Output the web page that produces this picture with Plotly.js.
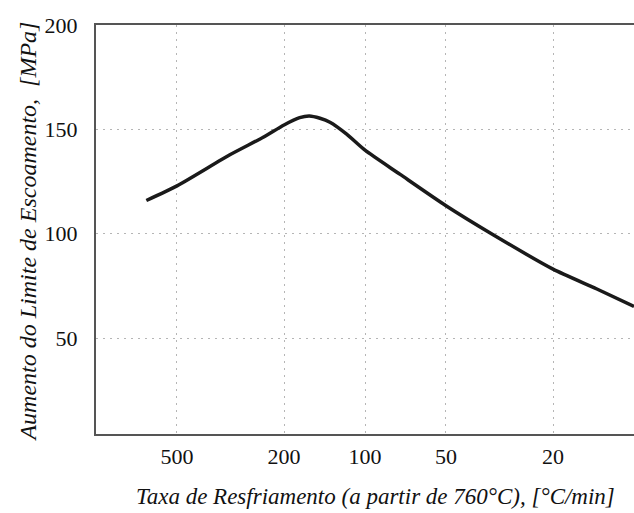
<!DOCTYPE html>
<html>
<head>
<meta charset="utf-8">
<script src="https://cdn.plot.ly/plotly-3.0.1.min.js"></script>
<style>html,body{margin:0;padding:0;background:#fff;} #chart{width:634px;height:513px;}</style>
</head>
<body>
<div id="chart"></div>
<script>
// Cooling rate (°C/min) and yield strength increase (MPa)
const coolingRate = [650, 500, 318, 239, 200, 175, 161, 147, 135, 117, 100, 74, 50, 33.4, 20, 13.8, 10];
const yieldIncrease = [115.9, 122.9, 137.8, 146.2, 152.1, 155.6, 156.4, 155.3, 153.4, 147.7, 140.0, 128.4, 113.4, 99.5, 83.0, 73.6, 65.1];
const xTickVals = [500, 200, 100, 50, 20];
const xTickText = ['500', '200', '100', '50', '20'];
const yTickVals = [50, 100, 150, 200];
const yTickText = ['50', '100', '150', '200'];
const xTitle = 'Taxa de Resfriamento (a partir de 760°C), [°C/min]';
const yTitle = 'Aumento do Limite de Escoamento,\u00a0\u00a0[MPa]';

const fontFam = 'Liberation Serif';

const trace = {
  x: coolingRate,
  y: yieldIncrease,
  type: 'scatter',
  mode: 'lines',
  line: {color: '#1a1a1a', width: 3.5, shape: 'spline', smoothing: 0.6},
  hoverinfo: 'skip'
};

const layout = {
  width: 634,
  height: 513,
  margin: {l: 96, r: 0, t: 25, b: 79},
  paper_bgcolor: '#ffffff',
  plot_bgcolor: '#ffffff',
  showlegend: false,
  font: {family: fontFam, color: '#111111', size: 22},
  xaxis: {
    type: 'log',
    range: [3, 1],
    tickvals: xTickVals,
    ticktext: xTickText,
    ticks: '',
    ticklabelstandoff: 2,
    showgrid: true,
    gridcolor: '#b5b5b5',
    gridwidth: 1,
    griddash: '2px,5px',
    showline: true,
    linecolor: '#555555',
    linewidth: 2,
    mirror: true,
    zeroline: false,
    tickfont: {family: fontFam, size: 22, color: '#111111'}
  },
  yaxis: {
    range: [4, 200],
    tickvals: yTickVals,
    ticktext: yTickText,
    ticks: '',
    ticklabelstandoff: 12,
    showgrid: true,
    gridcolor: '#b5b5b5',
    gridwidth: 1,
    griddash: '2px,5px',
    showline: true,
    linecolor: '#555555',
    linewidth: 2,
    mirror: false,
    zeroline: false,
    tickfont: {family: fontFam, size: 22, color: '#111111'}
  },
  annotations: [
    {
      text: xTitle,
      xref: 'paper', yref: 'paper',
      x: 0.5204, y: -0.154,
      xanchor: 'center', yanchor: 'middle',
      showarrow: false,
      font: {family: fontFam, size: 23, style: 'italic', color: '#111111'}
    },
    {
      text: yTitle,
      xref: 'paper', yref: 'paper',
      x: -0.1264, y: 0.495,
      xanchor: 'center', yanchor: 'middle',
      textangle: -90,
      showarrow: false,
      font: {family: fontFam, size: 24, style: 'italic', color: '#111111'}
    }
  ]
};

Plotly.newPlot('chart', [trace], layout, {displayModeBar: false, staticPlot: true});
</script>
</body>
</html>
